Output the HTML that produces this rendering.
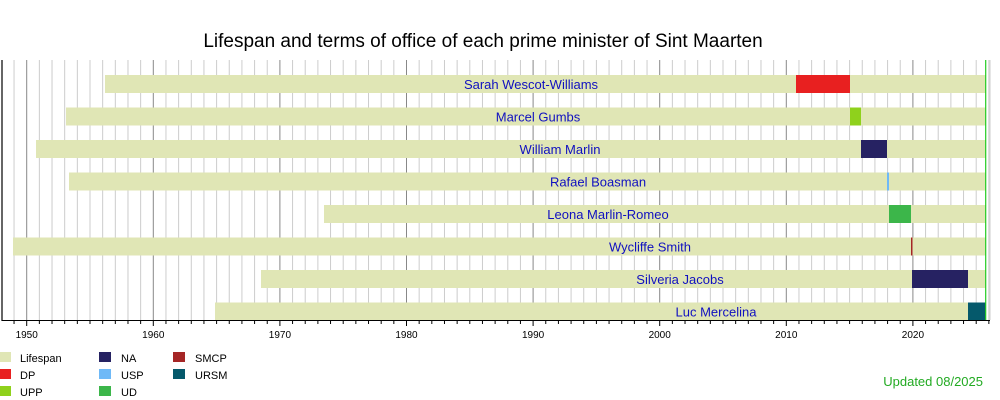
<!DOCTYPE html><html><head><style>body{margin:0;background:#fff}svg{display:block}text{font-family:"Liberation Sans",sans-serif}</style></head><body>
<svg width="1000" height="400" xmlns="http://www.w3.org/2000/svg">
<text x="483" y="47" font-size="19" text-anchor="middle" fill="#000">Lifespan and terms of office of each prime minister of Sint Maarten</text>
<g id="grid"></g>
<g id="bars"></g>
<line x1="2" y1="60" x2="2" y2="321" stroke="#000" stroke-width="1.2"/>
<line x1="2" y1="320.5" x2="990" y2="320.5" stroke="#000"/>
<line x1="985.7" y1="60" x2="985.7" y2="320" stroke="#2c2" stroke-width="1.2"/>
<g font-size="11" fill="#000">
<rect x="0" y="352" width="11" height="10" fill="#e0e6b5"/><text x="20" y="362">Lifespan</text>
<rect x="0" y="369" width="11" height="10" fill="#e82020"/><text x="20" y="379">DP</text>
<rect x="0" y="386" width="11" height="10" fill="#8fd11c"/><text x="20" y="396">UPP</text>
<rect x="99" y="352" width="12" height="10" fill="#262262"/><text x="121" y="362">NA</text>
<rect x="99" y="369" width="12" height="10" fill="#6fb9f7"/><text x="121" y="379">USP</text>
<rect x="99" y="386" width="12" height="10" fill="#3cb64a"/><text x="121" y="396">UD</text>
<rect x="173" y="352" width="12" height="10" fill="#a52626"/><text x="195" y="362">SMCP</text>
<rect x="173" y="369" width="12" height="10" fill="#05596b"/><text x="195" y="379">URSM</text>
</g>
<text x="983" y="386" font-size="13" fill="#2a2" text-anchor="end">Updated 08/2025</text>
</svg>
<script>
const ns="http://www.w3.org/2000/svg";
const X=y=>26.7+(y-1950)*12.66;
const g=document.getElementById("grid");
function el(p,t,a){const e=document.createElementNS(ns,t);for(const k in a)e.setAttribute(k,a[k]);p.appendChild(e);return e;}
for(let y=1948;y<=2026;y++){const x=X(y);if(x<3||x>990)continue;const dec=y%10==0;
el(g,"line",{x1:x,y1:60,x2:x,y2:320,stroke:dec?"#888":"#ccc","stroke-width":1});
el(g,"line",{x1:x,y1:320,x2:x,y2:dec?326:324,stroke:"#000"});
if(dec){const t=el(g,"text",{x:x,y:338,"font-size":"10","text-anchor":"middle",fill:"#000"});t.textContent=y;}}
el(g,"line",{x1:990,y1:60,x2:990,y2:320,stroke:"#ccc"});
const b=document.getElementById("bars");
const rows=[["Sarah Wescot-Williams",105,[[796,850,"#e82020"]],531],
["Marcel Gumbs",66,[[850,861,"#8fd11c"]],538],
["William Marlin",36,[[861,887,"#262262"]],560],
["Rafael Boasman",69,[[887,889,"#6fb9f7"]],598],
["Leona Marlin-Romeo",324,[[889,911,"#3cb64a"]],608],
["Wycliffe Smith",13,[[911,912.5,"#a52626"]],650],
["Silveria Jacobs",261,[[912,968,"#262262"]],680],
["Luc Mercelina",215,[[968,985.5,"#05596b"]],716]];
rows.forEach((r,i)=>{const top=75+i*32.5;
el(b,"rect",{x:r[1],y:top,width:985.5-r[1],height:18,fill:"#e0e6b5"});
r[2].forEach(s=>el(b,"rect",{x:s[0],y:top,width:s[1]-s[0],height:18,fill:s[2]}));
const t=el(b,"text",{x:r[3],y:top+14,"font-size":"13","text-anchor":"middle",fill:"#1010c0"});t.textContent=r[0];});
</script>
</body></html>
